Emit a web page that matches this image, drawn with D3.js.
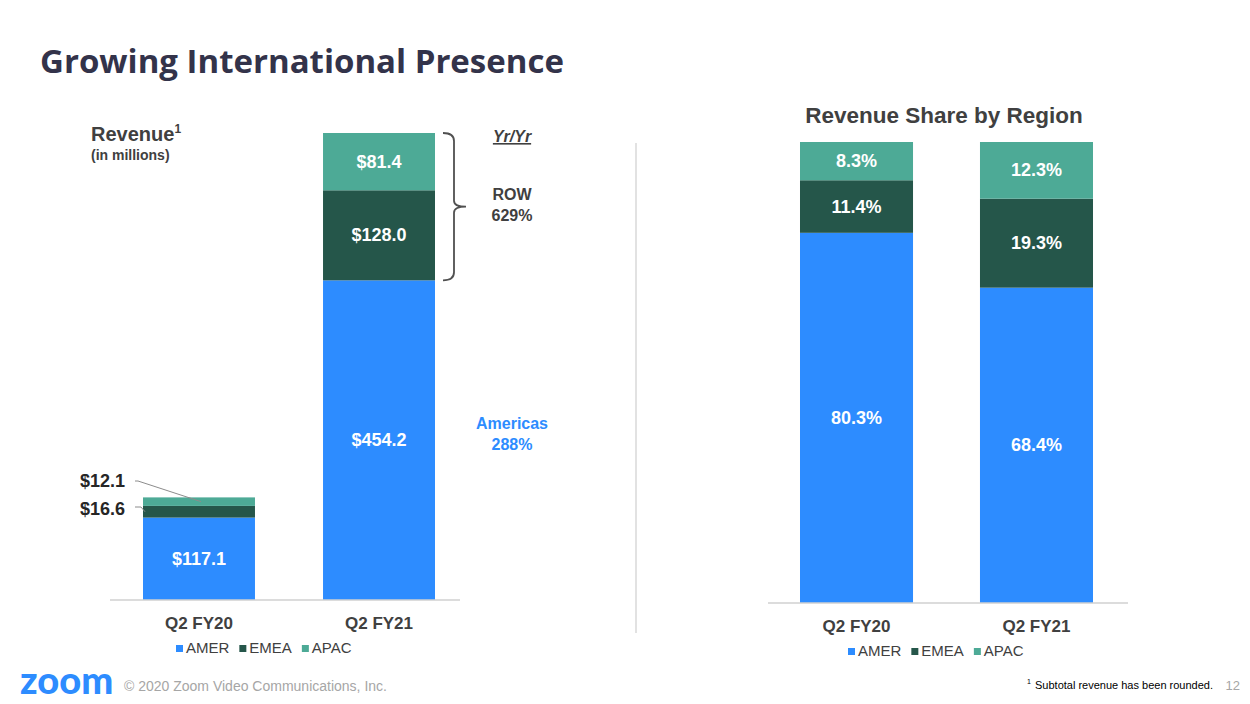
<!DOCTYPE html>
<html><head><meta charset="utf-8">
<script src="https://cdn.jsdelivr.net/npm/d3@7"></script>
<style>body{margin:0;background:#fff}svg{font-family:"Liberation Sans",Arial,sans-serif}</style>
</head><body><svg></svg>
<script>
const quarters = ['Q2 FY20', 'Q2 FY21'];
const regions = ['AMER', 'EMEA', 'APAC'];
const revAmer = [117.1, 454.2];
const revEmea = [16.6, 128.0];
const revApac = [12.1, 81.4];
const shareAmer = [80.3, 68.4];
const shareEmea = [11.4, 19.3];
const shareApac = [8.3, 12.3];

const colors = {AMER: '#2d8cff', EMEA: '#25564a', APAC: '#4daa96'};
const width = 1250, height = 704;
const svg = d3.select('svg').attr('width', width).attr('height', height);

svg.append('text').attr('x', 40).attr('y', 73).attr('font-family', 'Open Sans, sans-serif')
  .attr('font-weight', 700).attr('font-size', 33).attr('fill', '#33334a').text('Growing International Presence');

const drawStack = (cfg) => {
  const rows = quarters.map((q, i) => ({q, AMER: cfg.a[i], EMEA: cfg.e[i], APAC: cfg.p[i]}));
  const series = d3.stack().keys(regions)(rows);
  const x = d3.scaleBand().domain(quarters).range(cfg.xr).paddingInner(cfg.pi).paddingOuter(0.3);
  const y = d3.scaleLinear().domain([0, cfg.max]).range([cfg.base, cfg.top]);
  const g = svg.append('g');
  series.forEach(s => {
    g.selectAll(null).data(s).enter().append('rect')
      .attr('x', d => x(d.data.q)).attr('width', x.bandwidth())
      .attr('y', d => y(d[1])).attr('height', d => y(d[0]) - y(d[1]))
      .attr('fill', colors[s.key]);
  });
  g.append('line').attr('x1', cfg.axis[0]).attr('x2', cfg.axis[1]).attr('y1', cfg.base).attr('y2', cfg.base)
    .attr('stroke', '#d0d0d0').attr('stroke-width', 1.5);
  quarters.forEach(q => {
    g.append('text').attr('x', x(q) + x.bandwidth() / 2).attr('y', cfg.base + 29).attr('text-anchor', 'middle')
      .attr('font-weight', 700).attr('font-size', 17).attr('fill', '#404040').text(q);
  });
  let lx = cfg.legX;
  regions.forEach(r => {
    g.append('rect').attr('x', lx).attr('y', cfg.base + 45).attr('width', 7).attr('height', 7).attr('fill', colors[r]);
    const t = g.append('text').attr('x', lx + 10).attr('y', cfg.base + 53).attr('font-size', 15).attr('fill', '#404040').text(r);
    lx += 10 + t.node().getComputedTextLength() + 10;
  });
  return {x, y, series};
};

const L = drawStack({a: revAmer, e: revEmea, p: revApac, xr: [89, 489], pi: 0.378, axis: [110, 460],
  max: 663.6, base: 600, top: 133, legX: 176});
const labelIn = (c, s, i, fmt) => {
  const d = c.series[s][i];
  svg.append('text').attr('x', c.x(quarters[i]) + c.x.bandwidth() / 2)
    .attr('y', (c.y(d[0]) + c.y(d[1])) / 2 + 6).attr('text-anchor', 'middle')
    .attr('font-weight', 700).attr('font-size', 18).attr('fill', '#fff').text(fmt(d.data[regions[s]]));
};
const dollar = v => '$' + v.toFixed(1);
labelIn(L, 0, 0, dollar);
[0, 1, 2].forEach(s => labelIn(L, s, 1, dollar));
const fy20 = L.x(quarters[0]);
svg.append('text').attr('x', 125).attr('y', 487).attr('text-anchor', 'end').attr('font-weight', 700)
  .attr('font-size', 18).attr('fill', '#262626').text(dollar(revApac[0]));
svg.append('text').attr('x', 125).attr('y', 515).attr('text-anchor', 'end').attr('font-weight', 700)
  .attr('font-size', 18).attr('fill', '#262626').text(dollar(revEmea[0]));
svg.append('polyline').attr('points', `135,481 ${fy20 - 5},481 ${fy20 + 58},${L.y(revAmer[0] + revEmea[0] + revApac[0] / 2)}`)
  .attr('fill', 'none').attr('stroke', '#8c8c8c');
svg.append('polyline').attr('points', `135,507 ${fy20 - 2},507 ${fy20 + 2},${L.y(revAmer[0] + revEmea[0] / 2)}`)
  .attr('fill', 'none').attr('stroke', '#8c8c8c');

svg.append('text').attr('x', 91).attr('y', 141).attr('font-weight', 700).attr('font-size', 20).attr('fill', '#404040')
  .text('Revenue').append('tspan').attr('font-size', 12).attr('dy', -8).text('1');
svg.append('text').attr('x', 91).attr('y', 160).attr('font-weight', 700).attr('font-size', 14).attr('fill', '#404040').text('(in millions)');

const bt = L.y(revAmer[1] + revEmea[1] + revApac[1]), bb = L.y(revAmer[1]), bm = (bt + bb) / 2;
svg.append('path').attr('d', `M443,${bt} Q454,${bt} 454,${bt + 8} L454,${bm - 6} Q454,${bm} 466,${bm} Q454,${bm} 454,${bm + 6} L454,${bb - 8} Q454,${bb} 443,${bb}`)
  .attr('fill', 'none').attr('stroke', '#505050').attr('stroke-width', 1.8);
const note = (y, t, c, extra) => {
  const e = svg.append('text').attr('x', 512).attr('y', y).attr('text-anchor', 'middle').attr('font-weight', 700)
    .attr('font-size', 16).attr('fill', c).text(t);
  if (extra) e.attr('font-style', 'italic').attr('text-decoration', 'underline');
};
note(142, 'Yr/Yr', '#404040', true);
note(200, 'ROW', '#404040');
note(221, '629%', '#404040');
note(429, 'Americas', '#2d8cff');
note(450, '288%', '#2d8cff');

svg.append('line').attr('x1', 636).attr('x2', 636).attr('y1', 143).attr('y2', 633).attr('stroke', '#d9d9d9').attr('stroke-width', 1.5);

const R = drawStack({a: shareAmer, e: shareEmea, p: shareApac, xr: [746, 1147], pi: 0.372, axis: [768, 1128],
  max: 100, base: 603, top: 142, legX: 848});
const pct = v => v.toFixed(1) + '%';
[0, 1].forEach(i => [0, 1, 2].forEach(s => labelIn(R, s, i, pct)));
svg.append('text').attr('x', 944).attr('y', 123).attr('text-anchor', 'middle').attr('font-weight', 700)
  .attr('font-size', 22.5).attr('fill', '#404040').text('Revenue Share by Region');

svg.append('text').attr('x', 20).attr('y', 694).attr('font-family', 'Lato, sans-serif').attr('font-weight', 900)
  .attr('font-size', 38).attr('fill', '#2d8cff').text('zoom');
svg.append('text').attr('x', 124).attr('y', 691).attr('font-size', 14).attr('fill', '#a6a6a6').text('© 2020 Zoom Video Communications, Inc.');
svg.append('text').attr('x', 1213).attr('y', 689).attr('text-anchor', 'end').attr('font-size', 11).attr('fill', '#000')
  .text('Subtotal revenue has been rounded.');
svg.append('text').attr('x', 1027).attr('y', 684).attr('font-size', 7).attr('fill', '#000').text('1');
svg.append('text').attr('x', 1240).attr('y', 690).attr('text-anchor', 'end').attr('font-size', 13).attr('fill', '#a6a6a6').text('12');
</script></body></html>
